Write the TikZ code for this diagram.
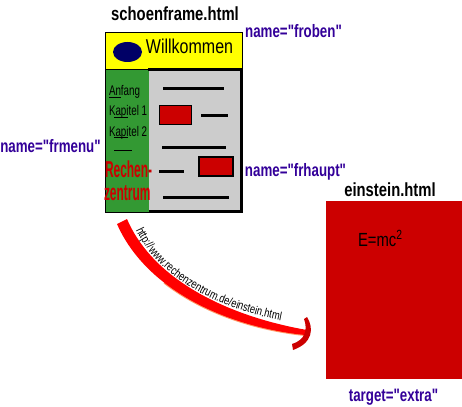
\documentclass[tikz,border=0pt]{standalone}
\usepackage{fontspec}
\setmainfont{Liberation Sans}
\usetikzlibrary{decorations.text,shapes.geometric}
\newfontfamily\fA[FakeStretch=0.78]{Liberation Sans}
\newfontfamily\fL[FakeStretch=0.74]{Liberation Sans}
\newfontfamily\fW[FakeStretch=0.8]{Liberation Sans}
\newfontfamily\fM[FakeStretch=0.7]{Liberation Sans}
\newfontfamily\fR[FakeStretch=0.52]{Liberation Sans}
\newfontfamily\fU[FakeStretch=0.78]{Liberation Sans}
\newcommand\urlfont{\fU\fontsize{12}{12}\selectfont}
\definecolor{myyellow}{HTML}{FFFF00}
\definecolor{mygreen}{HTML}{339933}
\definecolor{mygray}{HTML}{CCCCCC}
\definecolor{myred}{HTML}{CC0000}
\definecolor{mynavy}{HTML}{000066}
\definecolor{mypurple}{HTML}{330099}
\definecolor{swooshred}{HTML}{FF0000}
\definecolor{fringe}{HTML}{FF9966}
\tikzset{
  txt/.style={inner sep=0pt, outer sep=0pt},
  title/.style={txt, font=\fA\bfseries\fontsize{19}{19}\selectfont},
  lbl/.style={txt, text=mypurple, font=\fL\bfseries\fontsize{18}{18}\selectfont},
  menu/.style={txt, font=\fM\fontsize{14}{14}\selectfont, anchor=base west},
  rz/.style={txt, text=myred, font=\fR\bfseries\fontsize{23}{23}\selectfont, anchor=base west},
  bar/.style={line width=3pt},
  uline/.style={line width=1pt},
  redbox/.style={fill=myred, draw=black},
}
\begin{document}
\begin{tikzpicture}[x=1pt,y=1pt]
\useasboundingbox (0,0) rectangle (462,-406);
% frame
\path[fill=myyellow, draw=black, line width=1pt] (105,-33) rectangle (242,-70);
\path[fill=mygreen, draw=black, line width=1pt] (105,-70) rectangle (149,-212);
\path[fill=mygray] (149,-70) rectangle (241,-211);
\draw[bar] (148,-70) -- (243,-70);
\draw[bar] (241.5,-70) -- (241.5,-213);
\draw[bar] (149,-211.5) -- (243,-211.5);
% title
\node[title, anchor=base] (t1) at (175,-21) {schoenframe.html};
% top frame content
\node[fill=mynavy, ellipse, minimum width=29pt, minimum height=20pt, inner sep=0pt] (logo) at (127.5,-52) {};
\node[txt, font=\fW\fontsize{20}{20}\selectfont, anchor=base] (willk) at (189.5,-54) {Willkommen};
% main content
\draw[bar] (163,-89) -- (224,-89);
\draw[redbox, line width=1pt] (159,-106) rectangle (191,-125);
\draw[bar] (201,-116) -- (228,-116);
\draw[bar] (162,-147) -- (226,-147);
\draw[redbox, line width=2.5pt] (199,-157) rectangle (233,-176);
\draw[bar] (159,-171) -- (184,-171);
\draw[bar] (163,-197) -- (229,-197);
% menu
\node[menu] (m1) at (109,-96) {Anfang};
\node[menu] (m2) at (109,-116) {Kapitel 1};
\node[menu] (m3) at (109,-136) {Kapitel 2};
\draw[uline] (109,-98) -- (121,-98);
\draw[uline] (114,-117.5) -- (128,-117.5);
\draw[uline] (114,-138) -- (128,-138);
\draw[uline] (114,-150) -- (132,-150);
\node[rz] (r1) at (105,-177) {Rechen-};
\node[rz] (r2) at (104,-200) {zentrum};
% labels
\node[lbl, anchor=base] (froben) at (293.5,-38) {name="froben"};
\node[lbl, anchor=base] (frmenu) at (50.5,-153) {name="frmenu"};
\node[lbl, anchor=base] (frhaupt) at (295.5,-176) {name="frhaupt"};
% einstein
\node[title, anchor=base] (et) at (390,-196) {einstein.html};
\path[fill=myred] (326,-201) rectangle (462,-379);
\node[txt, font=\fA\fontsize{19}{19}\selectfont, anchor=base west] (emc) at (358,-246) {E=mc\textsuperscript{2}};
\node[lbl, anchor=base] (target) at (393.5,-401) {target="extra"};
% swoosh
\draw[fringe, line width=2pt] (164.2,-282.7) .. controls (202.3,-312.4) and (254.3,-329.8) .. (305,-335);
\path[fill=swooshred] (127,-219) .. controls (154,-282) and (232,-317) .. (307,-330)
  -- (305,-335) .. controls (227,-327) and (146,-290) .. (117,-224) -- cycle;
\path[fill=myred] (307,-317) .. controls (314,-328) and (313,-343) .. (293,-350)
  -- (292,-344) .. controls (305,-340) and (308,-330) .. (304,-319) -- cycle;
\path[decorate, decoration={text along path, text={|\urlfont|http://www.rechenzentrum.de/einstein.html}}]
  (136,-230) .. controls (157,-276) and (215,-308) .. (283,-321);
\end{tikzpicture}
\end{document}
